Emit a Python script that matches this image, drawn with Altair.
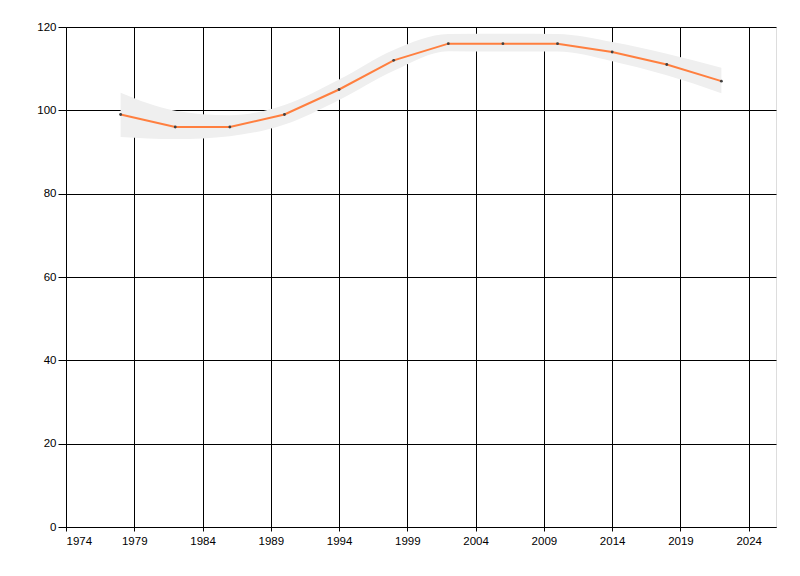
import altair as alt
import pandas as pd

years = [1978, 1982, 1986, 1990, 1994, 1998, 2002, 2006, 2010, 2014, 2018, 2022]
values = [99, 96, 96, 99, 105, 112, 116, 116, 116, 114, 111, 107]
upper = [104.2, 99.9, 98.8, 101.3, 107.4, 114.5, 118.3, 118.4, 118.3, 116.4, 113.6, 110.2]
lower = [93.6, 93.1, 93.8, 96.6, 102.5, 109.5, 114.2, 114.1, 114.1, 111.8, 108.4, 104.1]

x_ticks = [1974, 1979, 1984, 1989, 1994, 1999, 2004, 2009, 2014, 2019, 2024]
y_ticks = [0, 20, 40, 60, 80, 100, 120]

df = pd.DataFrame({"year": years, "value": values, "upper": upper, "lower": lower})

xs = alt.Scale(domain=[1974, 2026], nice=False, zero=False)
ys = alt.Scale(domain=[0, 120], nice=False)

xaxis = alt.Axis(values=x_ticks, format="d", grid=True, gridColor="black", gridOpacity=1,
                 domainColor="black", tickColor="black", tickSize=4, labelPadding=4,
                 labelFont="Liberation Sans", labelFontSize=11.5, labelColor="black", title=None)
yaxis = alt.Axis(values=y_ticks, grid=True, gridColor="black", gridOpacity=1,
                 domainColor="black", tickColor="black", tickSize=8, labelPadding=2,
                 labelFont="Liberation Sans", labelFontSize=11.5, labelColor="black", title=None)

base = alt.Chart(df)

band = base.mark_area(color="#efefef", interpolate="monotone", opacity=1).encode(
    x=alt.X("year:Q", scale=xs, axis=xaxis),
    y=alt.Y("upper:Q", scale=ys, axis=yaxis),
    y2="lower:Q",
)

line = base.mark_line(color="#ff7f3f", strokeWidth=2).encode(
    x=alt.X("year:Q", scale=xs),
    y=alt.Y("value:Q", scale=ys),
)

pts = base.mark_point(filled=True, color="#404040", size=8, opacity=1).encode(
    x=alt.X("year:Q", scale=xs),
    y=alt.Y("value:Q", scale=ys),
)

chart = alt.layer(band, line, pts).properties(
    width=710, height=500,
    autosize=alt.AutoSizeParams(type="none"),
    padding={"left": 58, "top": 19, "right": 10, "bottom": 30},
).configure_view(stroke=None).configure(background="white")

chart.save("out.html", embed_options={"renderer": "svg", "actions": False})
